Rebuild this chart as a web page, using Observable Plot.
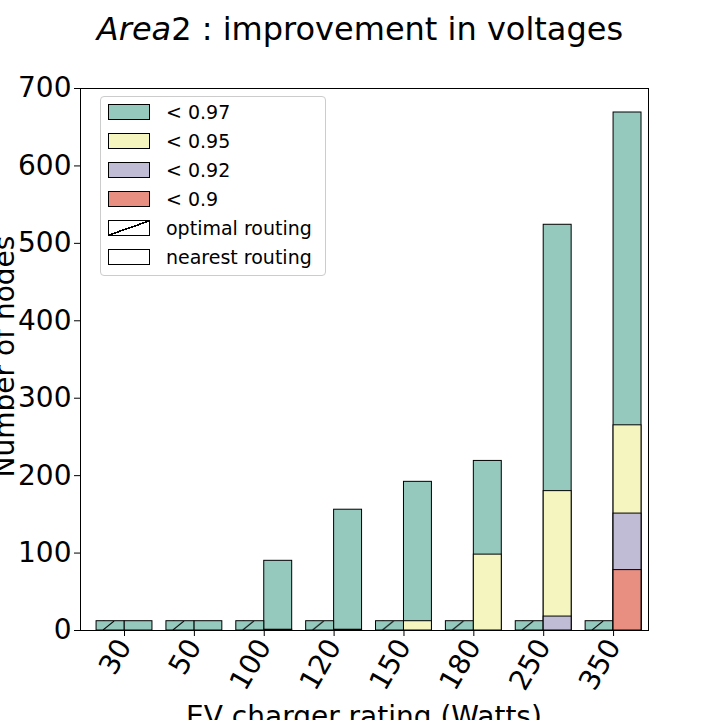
<!DOCTYPE html>
<html><head><meta charset="utf-8">
<script src="https://cdn.jsdelivr.net/npm/d3@7"></script>
<script src="https://cdn.jsdelivr.net/npm/@observablehq/plot@0.6"></script>
<style>
body{margin:0;font-family:"DejaVu Sans",sans-serif;}
#wrap{position:relative;width:720px;height:720px;overflow:hidden;background:#fff}
.lg{position:absolute;left:100px;top:96px;width:224px;height:178px;border:1px solid #ccc;border-radius:4px;background:#fff;font-size:19px}
.lg div{height:29px;display:flex;align-items:center;margin-left:7px}
.lg span{display:inline-block;width:40px;height:14px;border:1px solid #000;margin-right:16px}
</style></head><body>
<div id="wrap"></div>
<script>
const ratings = ["30","50","100","120","150","180","250","350"]
const thresholds = ["< 0.97","< 0.95","< 0.92","< 0.9"]
const colors = ["#96c9be","#f5f5bf","#c0bcd6","#e98f82"]
// nodes below each threshold, nearest routing
const nearest = {
  "< 0.97": [12,12,90,156,192,219,524,669],
  "< 0.95": [0,0,1,1,12,98,180,265],
  "< 0.92": [0,0,0,0,0,0,18,151],
  "< 0.9":  [0,0,0,0,0,0,0,78]
}
// optimal routing
const optimal = {"< 0.97": [12,12,12,12,12,12,12,12]}

const rows = []
thresholds.forEach((t,k) => ratings.forEach((r,i) => {
  const v = nearest[t][i]
  if (v > 0) rows.push({i, t, v, side: 1})
  if (optimal[t] && optimal[t][i] > 0) rows.push({i, t, v: optimal[t][i], side: -1})
}))
const w = 0.4

const chart = Plot.plot({
  width: 720, height: 720,
  marginLeft: 80, marginRight: 72, marginTop: 88, marginBottom: 90,
  style: {fontFamily: "DejaVu Sans", fontSize: "28px", color: "#000"},
  x: {domain: [-0.63, 7.5], ticks: d3.range(ratings.length), tickFormat: i => ratings[i], tickRotate: -60, label: null, tickSize: 6},
  y: {domain: [0, 700], ticks: d3.range(0, 701, 100), label: null, tickSize: 6},
  color: {domain: thresholds, range: colors},
  marks: [
    Plot.rectY(rows, {x1: d => d.side < 0 ? d.i - w : d.i, x2: d => d.side < 0 ? d.i : d.i + w,
      y1: 0, y2: "v", fill: "t", stroke: "#000", strokeWidth: 1}),
    Plot.rectY(rows.filter(d => d.side < 0), {x1: d => d.i - w, x2: d => d.i,
      y1: 0, y2: "v", fill: "url(#hatch)"}),
    Plot.frame({stroke: "#000"})
  ]
})
const sx = chart.scale("x")
const step = sx.apply(1) - sx.apply(0), x0 = sx.apply(-w)
chart.insertAdjacentHTML("afterbegin",
  `<defs><pattern id="hatch" patternUnits="userSpaceOnUse" width="${step}" height="9" x="${x0}" y="621"><path d="M7,9 L18,0" stroke="#000" stroke-width="1"/></pattern></defs>`)
const wrap = document.getElementById("wrap")
wrap.append(chart)
chart.style.position = "absolute"; chart.style.left = "0"; chart.style.top = "0"

wrap.insertAdjacentHTML("beforeend",
  '<div style="position:absolute;top:10px;width:720px;text-align:center;font-size:32px"><i>Area</i>2 : improvement in voltages</div>' +
  '<div style="position:absolute;left:-146px;top:340px;width:300px;text-align:center;font-size:28px;transform:rotate(-90deg)">Number of nodes</div>' +
  '<div style="position:absolute;left:80px;top:700px;width:568px;text-align:center;font-size:28px">EV charger rating (Watts)</div>')
const lg = document.createElement("div"); lg.className = "lg"
lg.innerHTML = thresholds.map((t,k) => `<div><span style="background:${colors[k]}"></span>${t}</div>`).join("") +
  '<div><span style="background:linear-gradient(to top left,#fff 47%,#000 47%,#000 53%,#fff 53%)"></span>optimal routing</div>' +
  '<div><span></span>nearest routing</div>'
wrap.append(lg)
</script></body></html>
